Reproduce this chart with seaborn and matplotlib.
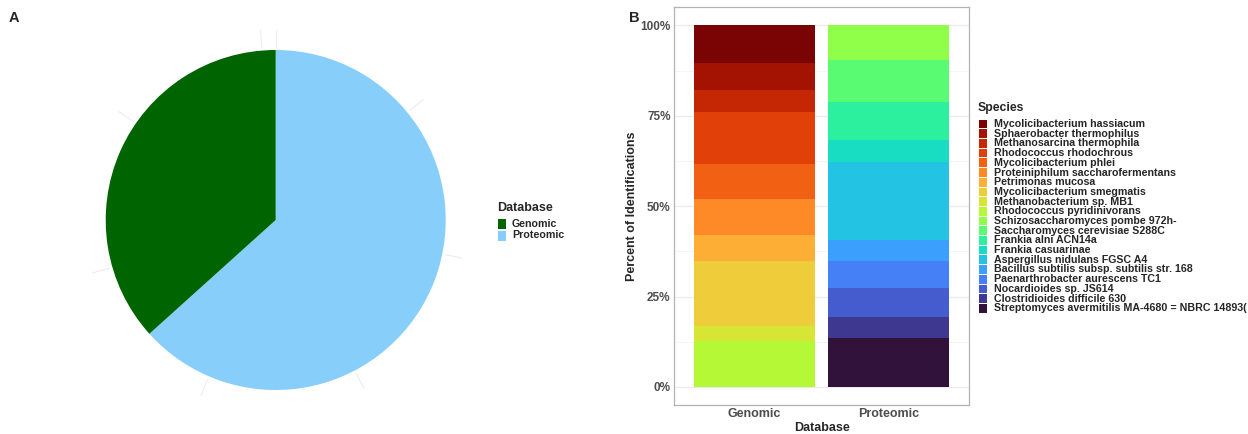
import numpy as np
import pandas as pd
import matplotlib
matplotlib.use("Agg")
import matplotlib.pyplot as plt
from matplotlib.patches import Rectangle
import seaborn as sns

# ---- data -------------------------------------------------------------
databases = ["Genomic", "Proteomic"]
database_counts = [2600, 4490]
database_colors = ["#006400", "#87CEFA"]
count_breaks = [0, 1000, 2000, 3000, 4000, 5000, 6000, 7000]

species = [
    "Mycolicibacterium hassiacum",
    "Sphaerobacter thermophilus",
    "Methanosarcina thermophila",
    "Rhodococcus rhodochrous",
    "Mycolicibacterium phlei",
    "Proteiniphilum saccharofermentans",
    "Petrimonas mucosa",
    "Mycolicibacterium smegmatis",
    "Methanobacterium sp. MB1",
    "Rhodococcus pyridinivorans",
    "Schizosaccharomyces pombe 972h-",
    "Saccharomyces cerevisiae S288C",
    "Frankia alni ACN14a",
    "Frankia casuarinae",
    "Aspergillus nidulans FGSC A4",
    "Bacillus subtilis subsp. subtilis str. 168",
    "Paenarthrobacter aurescens TC1",
    "Nocardioides sp. JS614",
    "Clostridioides difficile 630",
    "Streptomyces avermitilis MA-4680 = NBRC 14893(",
]
species_database = ["Genomic"] * 10 + ["Proteomic"] * 10
species_percent = [10.35, 7.49, 6.00, 14.60, 9.60, 9.90, 7.10, 18.20, 4.00, 12.76,
                   9.52, 11.65, 10.44, 6.10, 21.72, 5.73, 7.48, 8.14, 5.73, 13.49]
percent_ticks = [0, 25, 50, 75, 100]
percent_tick_labels = ["0%", "25%", "50%", "75%", "100%"]

# ---- style ------------------------------------------------------------
sns.set_theme(style="white")
plt.rcParams["font.family"] = ["Liberation Sans", "DejaVu Sans"]
plt.rcParams["font.weight"] = "bold"

W, H = 1248, 434
fig = plt.figure(figsize=(W / 100, H / 100), dpi=100)


def fx(x):
    return x / W


def fy(y):
    return 1 - y / H


# ---- panel A: pie of identifications per database ----------------------
cx, cy, r_px = 275.7, 220.0, 170.0
half = 200.0
axA = fig.add_axes([fx(cx - half), fy(cy + half), 2 * half / W, 2 * half / H])
lim = half / r_px
axA.set_aspect("equal")
axA.axis("off")

total = sum(database_counts)
for b in count_breaks:
    ang = np.deg2rad(90 - 360 * b / total)
    axA.plot([1.02 * np.cos(ang), 1.12 * np.cos(ang)],
             [1.02 * np.sin(ang), 1.12 * np.sin(ang)],
             color="#EDEDED", lw=0.8, zorder=0)

# clockwise from twelve o'clock, Proteomic first so Genomic closes the circle
axA.pie(database_counts[::-1], colors=database_colors[::-1], startangle=90,
        counterclock=False, radius=1.0, center=(0, 0),
        wedgeprops=dict(linewidth=0))
axA.set_xlim(-lim, lim)
axA.set_ylim(-lim, lim)

fig.text(fx(9), fy(18), "A", fontsize=10.5, fontweight="bold", va="center", ha="left")

# legend for panel A
fig.text(fx(497), fy(208), "Database", fontsize=9, fontweight="bold", va="center", ha="left")
for i, (name, col) in enumerate(zip(databases, database_colors)):
    yc = 224.5 + 11 * i
    fig.patches.append(Rectangle((fx(498), fy(yc + 5)), 8 / W, 10 / H,
                                 transform=fig.transFigure, facecolor=col,
                                 edgecolor="none"))
    fig.text(fx(512), fy(yc), name, fontsize=7.7, fontweight="bold",
             va="center", ha="left")

# ---- panel B: stacked species composition per database -----------------
ax_left, ax_right, ax_top, ax_bottom = 674, 969.3, 7.3, 405
axB = fig.add_axes([fx(ax_left), fy(ax_bottom), (ax_right - ax_left) / W,
                    (ax_bottom - ax_top) / H])

df = pd.DataFrame({"Database": species_database, "Species": species,
                   "Percent": species_percent})
palette = [tuple(c) for c in plt.cm.turbo(np.linspace(1, 0, len(species)))]

sns.histplot(data=df, x="Database", hue="Species", weights="Percent",
             hue_order=species, palette=palette, multiple="stack",
             discrete=True, shrink=0.9, alpha=1, linewidth=0,
             legend=False, ax=axB, zorder=2)

axB.set_xlim(-0.6, len(databases) - 0.4)
axB.set_ylim(-5, 105)
axB.set_yticks(percent_ticks)
axB.set_yticklabels(percent_tick_labels)
axB.set_yticks([12.5, 37.5, 62.5, 87.5], minor=True)
axB.set_xticks(range(len(databases)))
axB.set_xticklabels(databases)
axB.grid(True, axis="y", which="major", color="#EBEBEB", lw=0.8, zorder=0)
axB.grid(True, axis="y", which="minor", color="#F2F2F2", lw=0.5, zorder=0)
axB.grid(False, axis="x")
axB.set_axisbelow(True)
for s in axB.spines.values():
    s.set_color("#B3B3B3")
    s.set_linewidth(0.9)
axB.tick_params(axis="both", which="major", length=1.5, color="#B3B3B3",
                width=0.8, pad=1, labelcolor="#4D4D4D")
axB.tick_params(axis="y", which="major", labelsize=8.5)
axB.tick_params(axis="x", which="major", labelsize=9)
axB.tick_params(axis="y", which="minor", length=0)
for lab in axB.get_xticklabels() + axB.get_yticklabels():
    lab.set_fontweight("bold")
axB.set_xlabel("Database", fontsize=9, fontweight="bold")
axB.set_ylabel("Percent of Identifications", fontsize=9, fontweight="bold")
axB.xaxis.set_label_coords(0.4995, (ax_bottom - 422) / (ax_bottom - ax_top))
axB.yaxis.set_label_coords((638 - ax_left) / (ax_right - ax_left), 0.5)

fig.text(fx(629.5), fy(17.7), "B", fontsize=10.5, fontweight="bold", va="center", ha="left")

# legend for panel B
fig.text(fx(978), fy(107.5), "Species", fontsize=8.8, fontweight="bold",
         va="center", ha="left")
step = 9.7
for i, (name, col) in enumerate(zip(species, palette)):
    yc = 124 + step * i
    fig.patches.append(Rectangle((fx(979), fy(yc + step / 2 - 0.5)), 7.5 / W,
                                 (step - 1) / H, transform=fig.transFigure,
                                 facecolor=col, edgecolor="none"))
    fig.text(fx(994), fy(yc), name, fontsize=7.7, fontweight="bold",
             va="center", ha="left")

fig.savefig("out.png", dpi=100)
